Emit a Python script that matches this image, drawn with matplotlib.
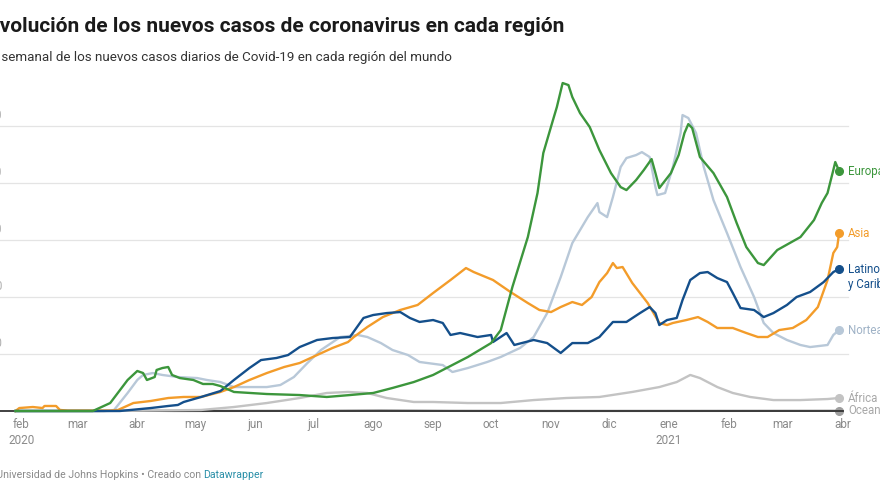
import matplotlib
matplotlib.use("Agg")
import matplotlib.pyplot as plt
import matplotlib.transforms as mtransforms
import pandas as pd

plt.rcParams['font.family'] = ['Roboto', 'DejaVu Sans']

# nuevos casos diarios (media semanal), en miles
europa_fechas = ['2020-01-29', '2020-03-09', '2020-03-18', '2020-03-27', '2020-04-01', '2020-04-04',
                 '2020-04-06', '2020-04-10', '2020-04-11', '2020-04-14', '2020-04-17', '2020-04-19',
                 '2020-04-23', '2020-04-30', '2020-05-05', '2020-05-10', '2020-05-14', '2020-05-21',
                 '2020-06-07', '2020-06-24', '2020-07-08', '2020-07-20', '2020-08-01', '2020-08-11',
                 '2020-08-22', '2020-09-01', '2020-09-19', '2020-10-01', '2020-10-06', '2020-10-12',
                 '2020-10-20', '2020-10-25', '2020-10-28', '2020-11-02', '2020-11-04', '2020-11-07',
                 '2020-11-10', '2020-11-12', '2020-11-16', '2020-11-21', '2020-11-26', '2020-12-02',
                 '2020-12-07', '2020-12-10', '2020-12-15', '2020-12-19', '2020-12-23', '2020-12-25',
                 '2020-12-27', '2021-01-02', '2021-01-06', '2021-01-09', '2021-01-11', '2021-01-13',
                 '2021-01-17', '2021-01-24', '2021-01-31', '2021-02-05', '2021-02-10', '2021-02-16',
                 '2021-02-19', '2021-02-26', '2021-03-10', '2021-03-17', '2021-03-21', '2021-03-24',
                 '2021-03-27', '2021-03-28', '2021-03-30']
europa_miles = [0, 0, 7.0, 27.2, 35.1, 33.3,
                27.2, 29.8, 36.0, 37.7, 38.6, 31.6,
                28.9, 27.2, 23.7, 23.7, 21.9, 16.7,
                14.9, 14.0, 12.3, 14.0, 15.8, 20.2,
                25.4, 31.6, 47.4, 59.6, 71.0, 108.7,
                152.6, 191.2, 226.3, 255.2, 266.6, 287.7,
                285.9, 275.4, 261.3, 249.1, 228.9, 208.7,
                196.4, 193.8, 202.6, 211.4, 221.0, 208.7,
                195.6, 208.7, 224.5, 243.8, 251.7, 248.2,
                222.8, 208.7, 187.7, 164.9, 143.8, 129.8,
                128.0, 141.2, 152.6, 167.5, 182.4, 191.2,
                211.4, 218.4, 210.5]

asia_fechas = ['2020-01-29', '2020-01-31', '2020-02-07', '2020-02-12', '2020-02-13', '2020-02-19',
               '2020-02-21', '2020-02-25', '2020-03-18', '2020-03-22', '2020-03-30', '2020-04-08',
               '2020-04-17', '2020-04-25', '2020-05-04', '2020-05-14', '2020-05-21', '2020-05-29',
               '2020-06-07', '2020-06-16', '2020-06-24', '2020-07-03', '2020-07-11', '2020-07-19',
               '2020-07-22', '2020-07-29', '2020-08-06', '2020-08-15', '2020-08-24', '2020-09-01',
               '2020-09-10', '2020-09-18', '2020-09-22', '2020-10-02', '2020-10-11', '2020-10-20',
               '2020-10-26', '2020-11-01', '2020-11-06', '2020-11-12', '2020-11-17', '2020-11-22',
               '2020-11-26', '2020-11-30', '2020-12-03', '2020-12-05', '2020-12-08', '2020-12-13',
               '2020-12-21', '2020-12-27', '2020-12-31', '2021-01-03', '2021-01-10', '2021-01-16',
               '2021-01-21', '2021-01-26', '2021-02-03', '2021-02-10', '2021-02-16', '2021-02-21',
               '2021-02-27', '2021-03-06', '2021-03-13', '2021-03-19', '2021-03-24', '2021-03-27',
               '2021-03-29', '2021-03-30']
asia_miles = [0, 2.6, 3.5, 2.6, 4.4, 4.4,
              0.9, 0.4, 0.4, 0.9, 7.0, 8.8,
              11.4, 12.3, 12.3, 16.7, 21.0, 27.2,
              33.3, 38.6, 42.1, 49.1, 55.3, 60.5,
              64.9, 73.7, 82.4, 88.6, 93.0, 103.5,
              114.9, 125.4, 121.9, 114.9, 104.4, 94.7,
              88.6, 86.8, 91.2, 95.6, 93.0, 100.0,
              113.1, 121.0, 129.8, 125.4, 126.3, 112.3,
              94.7, 77.2, 75.4, 77.2, 79.8, 82.4,
              78.1, 72.8, 72.8, 68.4, 64.9, 64.9,
              71.0, 72.8, 79.8, 91.2, 114.9, 138.6,
              143.8, 156.1]

latam_fechas = ['2020-01-29', '2020-03-23', '2020-04-08', '2020-04-17', '2020-04-22', '2020-04-25',
                '2020-05-04', '2020-05-14', '2020-05-21', '2020-05-29', '2020-06-04', '2020-06-12',
                '2020-06-18', '2020-06-24', '2020-07-03', '2020-07-11', '2020-07-20', '2020-07-27',
                '2020-08-01', '2020-08-08', '2020-08-15', '2020-08-20', '2020-08-25', '2020-09-01',
                '2020-09-06', '2020-09-10', '2020-09-15', '2020-09-24', '2020-10-01', '2020-10-02',
                '2020-10-09', '2020-10-13', '2020-10-23', '2020-10-30', '2020-11-06', '2020-11-12',
                '2020-11-20', '2020-11-26', '2020-12-03', '2020-12-10', '2020-12-17', '2020-12-22',
                '2020-12-25', '2020-12-27', '2020-12-31', '2021-01-05', '2021-01-08', '2021-01-12',
                '2021-01-17', '2021-01-21', '2021-01-26', '2021-01-31', '2021-02-03', '2021-02-07',
                '2021-02-14', '2021-02-19', '2021-02-24', '2021-03-03', '2021-03-08', '2021-03-15',
                '2021-03-22', '2021-03-27', '2021-03-30']
latam_miles = [0, 0, 2.6, 4.4, 5.3, 7.9,
               12.3, 17.5, 27.2, 37.7, 44.7, 46.5,
               49.1, 56.1, 62.3, 64.0, 64.9, 81.6,
               84.2, 85.9, 86.8, 81.6, 78.1, 79.8,
               77.2, 66.7, 68.4, 64.9, 66.7, 60.5,
               68.4, 57.9, 62.3, 59.6, 50.9, 59.6,
               59.6, 64.9, 78.1, 78.1, 85.9, 91.2,
               85.9, 75.4, 79.8, 81.6, 97.3, 114.9,
               121.0, 121.9, 116.6, 113.1, 103.5, 90.3,
               88.6, 82.4, 85.9, 93.0, 100.0, 104.4,
               113.1, 121.9, 124.5]

norte_fechas = ['2020-01-29', '2020-03-15', '2020-03-20', '2020-03-27', '2020-04-01', '2020-04-04',
                '2020-04-09', '2020-04-14', '2020-04-22', '2020-05-02', '2020-05-07', '2020-05-14',
                '2020-05-21', '2020-06-07', '2020-06-14', '2020-06-21', '2020-06-28', '2020-07-05',
                '2020-07-15', '2020-07-24', '2020-07-29', '2020-08-05', '2020-08-11', '2020-08-19',
                '2020-08-25', '2020-09-06', '2020-09-11', '2020-09-19', '2020-09-29', '2020-10-06',
                '2020-10-16', '2020-10-23', '2020-10-30', '2020-11-06', '2020-11-12', '2020-11-20',
                '2020-11-25', '2020-11-26', '2020-11-30', '2020-12-03', '2020-12-07', '2020-12-10',
                '2020-12-15', '2020-12-18', '2020-12-22', '2020-12-25', '2020-12-26', '2020-12-30',
                '2021-01-03', '2021-01-07', '2021-01-08', '2021-01-11', '2021-01-15', '2021-01-19',
                '2021-01-24', '2021-01-31', '2021-02-07', '2021-02-14', '2021-02-19', '2021-02-24',
                '2021-03-03', '2021-03-10', '2021-03-15', '2021-03-24', '2021-03-27', '2021-03-30']
norte_miles = [0, 0, 0.9, 15.8, 27.2, 31.6,
               33.3, 31.6, 29.8, 28.9, 27.2, 25.4,
               21.0, 21.0, 22.8, 29.8, 42.1, 53.5,
               64.9, 66.7, 64.9, 59.6, 53.5, 49.1,
               43.0, 40.3, 34.2, 37.7, 43.0, 47.4,
               55.3, 64.9, 85.9, 117.5, 147.3, 170.1,
               182.4, 174.5, 170.1, 187.7, 214.0, 221.9,
               224.5, 227.1, 222.8, 196.4, 189.4, 191.2,
               214.0, 243.8, 259.6, 257.0, 243.8, 214.0,
               185.0, 156.1, 126.3, 100.0, 77.2, 68.4,
               62.3, 57.9, 56.1, 57.9, 66.7, 71.0]

africa_fechas = ['2020-01-29', '2020-03-12', '2020-04-01', '2020-05-04', '2020-05-21', '2020-06-07',
                 '2020-06-24', '2020-07-08', '2020-07-19', '2020-07-29', '2020-08-08', '2020-08-22',
                 '2020-09-01', '2020-09-19', '2020-10-06', '2020-10-23', '2020-11-09', '2020-11-26',
                 '2020-12-13', '2020-12-27', '2021-01-05', '2021-01-12', '2021-01-17', '2021-01-26',
                 '2021-02-03', '2021-02-12', '2021-02-24', '2021-03-10', '2021-03-24', '2021-03-30']
africa_miles = [0, 0, 0.3, 0.9, 3.5, 7.0,
                11.4, 15.8, 16.7, 15.8, 11.4, 7.9,
                7.9, 7.0, 7.0, 9.6, 11.4, 12.3,
                16.7, 21.0, 25.4, 31.6, 28.9, 21.0,
                15.8, 12.3, 9.6, 9.6, 10.5, 11.4]

oceania_fechas = ['2020-01-29', '2020-03-10', '2020-03-28', '2020-04-20', '2020-07-05', '2020-08-05',
                  '2020-09-10', '2020-11-01', '2021-01-10', '2021-03-30']
oceania_miles = [0, 0, 0.4, 0.05, 0.2, 0.55,
                 0.15, 0.05, 0.1, 0.2]

meses = pd.date_range('2020-02-01', '2021-04-01', freq='MS')
meses_etiquetas = ['feb\n2020', 'mar', 'abr', 'may', 'jun', 'jul', 'ago', 'sep', 'oct', 'nov', 'dic',
                   'ene\n2021', 'feb', 'mar', 'abr']
rejilla = [50000, 100000, 150000, 200000, 250000]

series = [
    ('Oceanía', oceania_fechas, oceania_miles, '#9e9e9e', '#a8a8a8', 1),
    ('África', africa_fechas, africa_miles, '#c3c3c3', '#a8a8a8', 2),
    ('Norteamérica', norte_fechas, norte_miles, '#b8c8d8', '#9fb2c6', 3),
    ('Asia', asia_fechas, asia_miles, '#f39c2a', '#f39c2a', 4),
    ('Latinoamérica\ny Caribe', latam_fechas, latam_miles, '#144f8b', '#144f8b', 5),
    ('Europa', europa_fechas, europa_miles, '#3c963c', '#3c963c', 6),
]

fig = plt.figure(figsize=(8.8, 4.95), dpi=100)
ax = fig.add_axes([0, 84 / 495, 843 / 880, 342 / 495])
ax.set_xlim(pd.Timestamp('2020-01-21'), pd.Timestamp('2021-04-01'))
ax.set_ylim(0, 300000)
for s in ax.spines.values():
    s.set_visible(False)

for v in rejilla:
    ax.axhline(v, xmax=848 / 843, color='#e4e4e4', lw=0.9, zorder=0, clip_on=False)
    # etiquetas del eje casi ocultas por el recorte, como en el original
    ax.text(2 / 843, v, f"{v:,}".replace(',', '.'),
            transform=mtransforms.offset_copy(
                mtransforms.blended_transform_factory(ax.transAxes, ax.transData), fig=fig, y=4, units='dots'),
            ha='right', va='bottom', fontsize=8.5, color='#b0b0b0')

ax.axhline(0, color='#333333', lw=1.3, zorder=2, clip_on=False)

for nombre, fechas, miles, color, color_txt, z in series:
    x = pd.to_datetime(fechas)
    y = [m * 1000 for m in miles]
    zz = 1 if nombre == 'Oceanía' else z + 2
    ax.plot(x, y, color=color, lw=1.7, zorder=zz, clip_on=False, solid_joinstyle='round')
    ax.plot(x[-1], y[-1], 'o', ms=5.5, color=color, zorder=zz + 0.5, clip_on=False)
    dy = -8 if '\n' in nombre else 0
    ax.text(x[-1], y[-1], nombre, color=color_txt, fontsize=8.3, ha='left', va='center',
            linespacing=1.25, clip_on=False,
            transform=mtransforms.offset_copy(ax.transData, fig=fig, x=9, y=dy, units='dots'))

ax.set_yticks([])
ax.set_xticks(meses)
ax.set_xticklabels(meses_etiquetas)
ax.tick_params(axis='x', length=0, pad=5, labelsize=8.5, labelcolor='#8a8a8a')
for lab in ax.get_xticklabels():
    lab.set_linespacing(1.3)

renderer = fig.canvas.get_renderer()


def ancho(texto, **kw):
    t = fig.text(0, 0, texto, **kw)
    w = t.get_window_extent(renderer).width
    t.remove()
    return w


def texto_recortado(oculto, visible, x_visible, y, **kw):
    # el comienzo del texto queda fuera del lienzo, como en el original
    w = ancho(oculto + visible, **kw) - ancho(visible, **kw)
    return fig.text((x_visible - w) / 880, y, oculto + visible, **kw)


titulo_kw = dict(fontsize=15, fontweight='bold', color='#1a1a1a', va='baseline')
texto_recortado('E', 'volución de los nuevos casos de coronavirus en cada región', 0, 1 - 32 / 495, **titulo_kw)

sub_kw = dict(fontsize=9.6, color='#333333', va='baseline')
texto_recortado('Media ', 'semanal de los nuevos casos diarios de Covid-19 en cada región del mundo', 1,
                1 - 61 / 495, **sub_kw)

fuente_kw = dict(fontsize=7.6, color='#8a8a8a', va='baseline')
primera = 'Universidad de Johns Hopkins • Creado con '
t = texto_recortado('Fuente: ', primera, -4, 1 - 478 / 495, **fuente_kw)
x0 = t.get_position()[0] * 880
fig.text((x0 + ancho('Fuente: ' + primera, **fuente_kw)) / 880, 1 - 478 / 495, 'Datawrapper',
         fontsize=7.6, color='#2a8fa8', va='baseline')

fig.savefig('out.png', dpi=100)
